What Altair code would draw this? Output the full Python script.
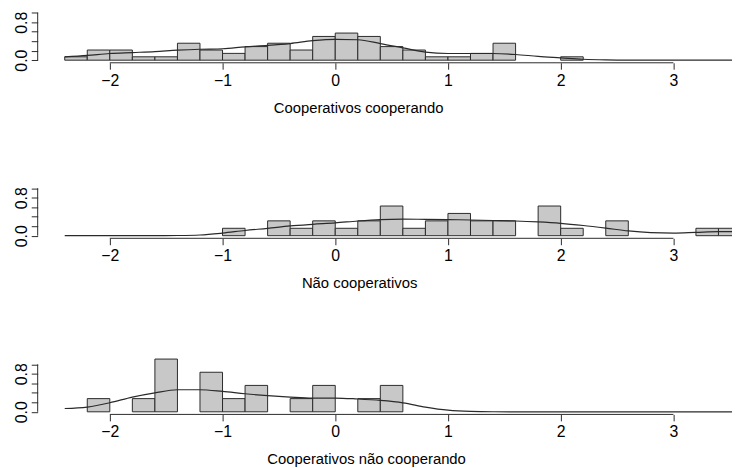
import altair as alt
import pandas as pd

FONT = "Liberation Sans, Arial, Helvetica, sans-serif"
BIN_W = 0.2

x_ticks = [-2, -1, 0, 1, 2, 3]
y_ticks = [0.0, 0.2, 0.4, 0.6, 0.8, 1.0]
x_domain = [-2.64, 3.52]

titles = ["Cooperativos cooperando", "Não cooperativos", "Cooperativos não cooperando"]

# histogram bins (left edges) and density heights
p1_bins = [-2.4, -2.2, -2.0, -1.8, -1.6, -1.4, -1.2, -1.0, -0.8, -0.6, -0.4, -0.2,
           0.0, 0.2, 0.4, 0.6, 0.8, 1.0, 1.2, 1.4, 2.0]
p1_heights = [0.071, 0.214, 0.214, 0.071, 0.071, 0.357, 0.214, 0.143, 0.286, 0.357, 0.214, 0.5,
              0.571, 0.5, 0.286, 0.214, 0.071, 0.071, 0.143, 0.357, 0.071]

p2_bins = [-1.0, -0.6, -0.4, -0.2, 0.0, 0.2, 0.4, 0.6, 0.8, 1.0, 1.2, 1.4, 1.8, 2.0, 2.4, 3.2, 3.4]
p2_heights = [0.156, 0.3125, 0.156, 0.3125, 0.156, 0.3125, 0.625, 0.156, 0.3125, 0.469, 0.3125,
              0.3125, 0.625, 0.156, 0.3125, 0.156, 0.156]

p3_bins = [-2.2, -1.8, -1.6, -1.2, -1.0, -0.8, -0.4, -0.2, 0.2, 0.4]
p3_heights = [0.278, 0.278, 1.111, 0.833, 0.278, 0.556, 0.278, 0.556, 0.278, 0.556]

# density curves
dens_x = [-2.4, -2.2, -2.0, -1.8, -1.6, -1.4, -1.2, -1.0, -0.8, -0.6, -0.4, -0.2, 0.0, 0.2, 0.4,
          0.6, 0.8, 1.0, 1.2, 1.4, 1.6, 1.8, 2.0, 2.2, 2.4, 2.6, 2.8, 3.0, 3.2, 3.4, 3.6]
p1_dens = [0.07, 0.10, 0.14, 0.16, 0.18, 0.21, 0.23, 0.24, 0.28, 0.31, 0.35, 0.41, 0.44, 0.43, 0.35,
           0.26, 0.17, 0.14, 0.14, 0.14, 0.12, 0.08, 0.05, 0.02, 0.006, 0.001, 0.0, 0.0, 0.0, 0.0, 0.0]
p2_dens = [0.0, 0.0, 0.0, 0.0, 0.001, 0.004, 0.015, 0.055, 0.11, 0.155, 0.205, 0.24, 0.27, 0.31, 0.34,
           0.35, 0.345, 0.34, 0.33, 0.32, 0.31, 0.29, 0.26, 0.215, 0.16, 0.10, 0.065, 0.055, 0.07, 0.085, 0.085]
p3_dens = [0.07, 0.10, 0.19, 0.31, 0.40, 0.465, 0.465, 0.43, 0.38, 0.34, 0.31, 0.29, 0.29, 0.27, 0.24,
           0.19, 0.10, 0.035, 0.008, 0.001, 0.0, 0.0, 0.0, 0.0, 0.0, 0.0, 0.0, 0.0, 0.0, 0.0, 0.0]

Y_MIN = -0.055
PX_PER_UNIT = 48.0
PLOT_W = 702
LINE_COL = "#2a2a2a"
LABEL_SIZE = 16
TITLE_SIZE = 15


def panel(bins, heights, dens, title, title_x, ymax):
    h = (ymax - Y_MIN) * PX_PER_UNIT
    xscale = alt.Scale(domain=x_domain, nice=False, zero=False)
    yscale = alt.Scale(domain=[Y_MIN, ymax], nice=False, zero=False)
    xaxis = alt.Axis(values=x_ticks, format="d", domain=False, grid=False, tickSize=6.5,
                     tickColor=LINE_COL, tickWidth=1, labelFont=FONT, labelFontSize=LABEL_SIZE,
                     labelColor="#000", labelPadding=3.2, labelFlush=False, labelOverlap=False,
                     title=title, titleFont=FONT, titleFontSize=TITLE_SIZE, titleFontWeight="normal",
                     titleColor="#000", titleX=title_x, titleY=50, titleAlign="center",
                     titleBaseline="alphabetic")
    yaxis = alt.Axis(values=y_ticks, domain=False, grid=False, tickSize=6.5, tickColor=LINE_COL,
                     tickWidth=1, labelFont=FONT, labelFontSize=LABEL_SIZE, labelColor="#000",
                     labelAngle=270, labelPadding=1.5, labelFlush=False, labelOverlap=False,
                     labelExpr="datum.value == 0 || datum.value == 0.8 ? format(datum.value, '.1f') : ''",
                     title=None)

    bars_df = pd.DataFrame({"x": bins, "x2": [b + BIN_W for b in bins],
                            "y": [0.0] * len(bins), "y2": heights})
    dens_df = pd.DataFrame({"x": dens_x, "y": dens})
    xline_df = pd.DataFrame({"x": [min(x_ticks)], "x2": [max(x_ticks)], "y": [Y_MIN]})
    yline_df = pd.DataFrame({"x": [x_domain[0]], "y": [min(y_ticks)], "y2": [max(y_ticks)]})

    bars = alt.Chart(bars_df).mark_rect(fill="#c8c8c8", stroke=LINE_COL, strokeWidth=1, clip=True).encode(
        x=alt.X("x:Q", scale=xscale, axis=xaxis), x2="x2:Q",
        y=alt.Y("y:Q", scale=yscale, axis=yaxis), y2="y2:Q")
    line = alt.Chart(dens_df).mark_line(color=LINE_COL, strokeWidth=1.2, interpolate="monotone",
                                        clip=True).encode(
        x=alt.X("x:Q", scale=xscale, axis=xaxis),
        y=alt.Y("y:Q", scale=yscale, axis=yaxis))
    xline = alt.Chart(xline_df).mark_rule(color=LINE_COL, strokeWidth=1).encode(
        x=alt.X("x:Q", scale=xscale, axis=xaxis), x2="x2:Q",
        y=alt.Y("y:Q", scale=yscale, axis=yaxis))
    yline = alt.Chart(yline_df).mark_rule(color=LINE_COL, strokeWidth=1).encode(
        x=alt.X("x:Q", scale=xscale, axis=xaxis),
        y=alt.Y("y:Q", scale=yscale, axis=yaxis), y2="y2:Q")
    return alt.layer(bars, line, xline, yline).properties(width=PLOT_W, height=h)


c1 = panel(p1_bins, p1_heights, p1_dens, titles[0], 324, 1.025)
c2 = panel(p2_bins, p2_heights, p2_dens, titles[1], 325, 1.2)
c3 = panel(p3_bins, p3_heights, p3_dens, titles[2], 332, 1.2)

chart = alt.vconcat(c1, c2, c3, spacing=117.06, bounds="flush").properties(
    padding={"left": 5, "top": 0, "right": 0, "bottom": 0},
    background="white"
).configure_view(stroke="transparent", strokeWidth=0)

chart.save("out.html", embed_options={"renderer": "svg", "actions": False})
